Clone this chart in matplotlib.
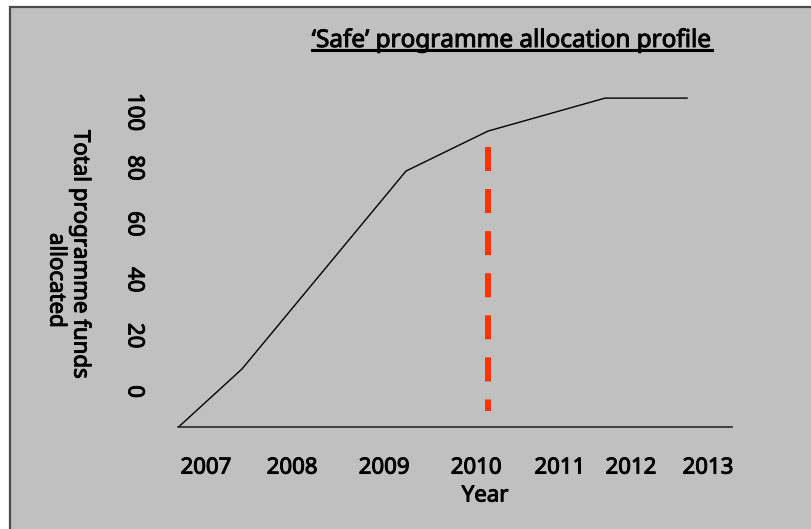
import matplotlib
matplotlib.use("Agg")
import matplotlib.pyplot as plt
import matplotlib.patheffects as pe
from matplotlib.patches import Rectangle
from matplotlib.lines import Line2D

plt.rcParams['font.family'] = ['Noto Sans', 'DejaVu Sans']
plt.rcParams['lines.scale_dashes'] = False

# ---- data ----
title = "\u2018Safe\u2019 programme allocation profile"
year_labels = ["2007", "2008", "2009", "2010", "2011", "2012", "2013"]
year_label_pos = [2007.0, 2008.03, 2009.13, 2010.23, 2011.23, 2012.08, 2013.0]
y_ticks = [0, 20, 40, 60, 80, 100]
line_x = [2006.67, 2007.43, 2009.39, 2010.37, 2011.77, 2012.75]
line_y = [-12.7, 8.1, 78.9, 93.2, 105.0, 105.0]
marker_year = 2010.37
marker_span = [87.6, -6.9]

W, H = 811, 529
fig = plt.figure(figsize=(W / 100, H / 100), dpi=100)
fig.patch.set_facecolor('white')

def fx(px):
    return px / W

def fy(py):
    return 1 - py / H

thick = [pe.withStroke(linewidth=0.7, foreground='black')]

# grey panel with dark left/top border
fig.patches.append(Rectangle((fx(9.5), -0.1), 1.2, fy(7.5) + 0.1,
                             transform=fig.transFigure, facecolor='#c0c0c0',
                             edgecolor='#4a4a4a', linewidth=1.6, zorder=-5))

ax = fig.add_axes([fx(178), fy(427), fx(732) - fx(178), fy(90) - fy(427)])
ax.set_zorder(2)
ax.patch.set_alpha(0)
ax.set_xlim(2006.665, 2013.287)
ax.set_ylim(-12.66, 107.9)
for s in ['top', 'right', 'left']:
    ax.spines[s].set_visible(False)
ax.spines['bottom'].set_color('#2a2a2a')
ax.spines['bottom'].set_linewidth(1.2)

ax.plot(line_x, line_y, color='black', linewidth=1.0, solid_joinstyle='miter')
ax.plot([marker_year, marker_year], marker_span, color='#ff3300', linewidth=4.3,
        dashes=(17.3, 13.0), solid_capstyle='butt', dash_capstyle='butt')

ax.set_xticks(year_label_pos)
ax.set_xticklabels(year_labels, fontsize=16, path_effects=thick)
ax.tick_params(axis='x', length=0, pad=22)
ax.set_yticks(y_ticks)
ax.set_yticklabels([str(v) for v in y_ticks], fontsize=16, rotation=-90,
                   va='center', path_effects=thick)
ax.tick_params(axis='y', length=0, pad=24)

fig.text(fx(485), fy(496), "Year", ha='center', va='center', fontsize=16,
         path_effects=thick)
fig.text(fx(80), fy(130), "Total programme funds", ha='center', va='top',
         rotation=270, fontsize=16, path_effects=thick)
fig.text(fx(56), fy(233), "allocated", ha='center', va='top',
         rotation=270, fontsize=16, path_effects=thick)

t = fig.text(fx(512), fy(47), title, ha='center', va='baseline', fontsize=17.5,
             path_effects=thick)
fig.canvas.draw()
bb = t.get_window_extent()
fig.add_artist(Line2D([bb.x0 / W, bb.x1 / W], [fy(49.5), fy(49.5)],
                      transform=fig.transFigure, color='black', linewidth=2.2))

fig.savefig("out.png", dpi=100)
